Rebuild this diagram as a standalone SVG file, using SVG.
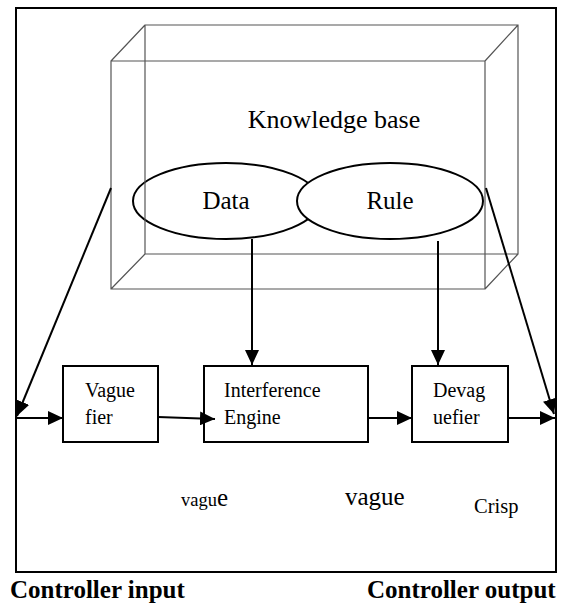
<svg xmlns="http://www.w3.org/2000/svg" width="570" height="606" viewBox="0 0 570 606">
<style>
.t{font-family:"Liberation Serif","Times New Roman",serif;fill:#000}
.b{font-family:"Liberation Serif","Times New Roman",serif;font-weight:bold;fill:#000}
.box{fill:#fff;stroke:#000;stroke-width:2}
.kb{fill:none;stroke:#555;stroke-width:1.2}
.el{fill:#fff;stroke:#000;stroke-width:2}
.c{fill:none;stroke:#000;stroke-width:2;marker-end:url(#ah)}
</style>
<defs>
<marker id="ah" markerUnits="userSpaceOnUse" markerWidth="16" markerHeight="14" refX="15" refY="7" orient="auto">
<path d="M0,0 L15,7 L0,14 z" fill="#000"/>
</marker>
</defs>
<rect width="570" height="606" fill="#fff"/>
<g id="frame">
<rect x="16" y="8" width="540" height="564" fill="none" stroke="#000" stroke-width="2"/>
</g>
<g id="knowledge-base">
<ellipse id="data" class="el" cx="226" cy="201" rx="93" ry="38"/>
<ellipse id="rule" class="el" cx="390" cy="201" rx="93" ry="38"/>
<path class="kb" d="M145,25 H518 V254 H145 Z M111,61 H485 V289 H111 Z M111,61 L145,25 M485,61 L518,25 M111,289 L145,254 M485,289 L518,254"/>
<text class="t" x="334" y="128" font-size="26" text-anchor="middle">Knowledge base</text>
<text class="t" x="226" y="209" font-size="25" text-anchor="middle">Data</text>
<text class="t" x="390" y="209" font-size="25" text-anchor="middle">Rule</text>
</g>
<g id="vaguefier">
<rect class="box" x="63" y="366" width="95" height="76"/>
<text class="t" x="85" y="397" font-size="20">Vague</text>
<text class="t" x="85" y="424" font-size="20">fier</text>
</g>
<g id="engine">
<rect class="box" x="204" y="366" width="164" height="76"/>
<text class="t" x="224" y="397" font-size="20">Interference</text>
<text class="t" x="224" y="424" font-size="20">Engine</text>
</g>
<g id="devaguefier">
<rect class="box" x="412" y="366" width="96" height="76"/>
<text class="t" x="433" y="397" font-size="20">Devag</text>
<text class="t" x="433" y="424" font-size="20">uefier</text>
</g>
<g id="connectors">
<line class="c" x1="252" y1="239" x2="252" y2="365"/>
<line class="c" x1="438" y1="241" x2="438" y2="365"/>
<line class="c" x1="16" y1="418" x2="63" y2="418"/>
<line class="c" x1="111" y1="188" x2="17" y2="416"/>
<line class="c" x1="158" y1="417" x2="215" y2="419"/>
<line class="c" x1="368" y1="418" x2="412" y2="418"/>
<line class="c" x1="508" y1="418" x2="555" y2="418"/>
<line class="c" x1="486" y1="188" x2="554" y2="414"/>
</g>
<g id="labels">
<text class="t" x="181" y="506" font-size="18.5">vagu<tspan font-size="25">e</tspan></text>
<text class="t" x="345" y="505" font-size="25">vague</text>
<text class="t" x="474" y="513" font-size="20.5">Crisp</text>
<text class="b" x="10" y="598" font-size="25">Controller input</text>
<text class="b" x="367" y="598" font-size="25">Controller output</text>
</g>
</svg>
